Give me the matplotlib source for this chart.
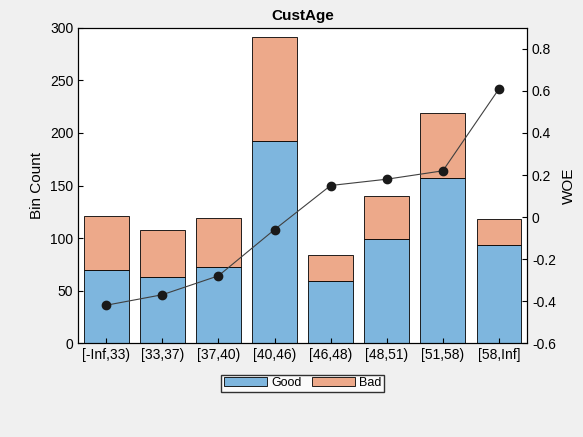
import matplotlib
matplotlib.use("Agg")
import matplotlib.pyplot as plt

bins = ["[-Inf,33)", "[33,37)", "[37,40)", "[40,46)", "[46,48)", "[48,51)", "[51,58)", "[58,Inf]"]
good = [70, 63, 72, 192, 59, 99, 157, 93]
bad = [51, 45, 47, 99, 25, 41, 62, 25]
woe = [-0.42, -0.37, -0.28, -0.06, 0.15, 0.18, 0.22, 0.61]

plt.rcParams["font.family"] = ["Liberation Sans", "DejaVu Sans"]
fig = plt.figure(figsize=(5.83, 4.37), dpi=100, facecolor="#f0f0f0")
ax = fig.add_axes([0.134, 0.215, 0.770, 0.721])
x = list(range(len(bins)))
ax.bar(x, good, width=0.8, color="#7eb6de", edgecolor="black", linewidth=0.6, label="Good")
ax.bar(x, bad, bottom=good, width=0.8, color="#eda98a", edgecolor="black", linewidth=0.6, label="Bad")
ax.set_xlim(-0.5, len(bins) - 0.5)
ax.set_ylim(0, 300)
ax.set_xticks(x)
ax.set_xticklabels(bins)
ax.set_ylabel("Bin Count", fontsize=11)
ax.set_title("CustAge", fontsize=11, fontweight="bold")
ax.tick_params(labelsize=10, direction="in")

ax2 = ax.twinx()
ax2.plot(x, woe, color="#404040", linewidth=0.8, marker="o", markersize=6,
         markerfacecolor="#1a1a1a", markeredgecolor="#1a1a1a")
ax2.set_ylim(-0.6, 0.9)
ax2.set_yticks([-0.6, -0.4, -0.2, 0, 0.2, 0.4, 0.6, 0.8])
ax2.set_yticklabels(["-0.6", "-0.4", "-0.2", "0", "0.2", "0.4", "0.6", "0.8"])
ax2.set_ylabel("WOE", fontsize=11)
ax2.tick_params(labelsize=10, direction="in")

ax.legend(loc="upper center", bbox_to_anchor=(0.5, -0.08), ncol=2, fontsize=9,
          frameon=True, fancybox=False, edgecolor="black", handlelength=3.5,
          borderpad=0.2, columnspacing=0.8, handletextpad=0.3)
fig.savefig("out.png", dpi=100, facecolor=fig.get_facecolor())
